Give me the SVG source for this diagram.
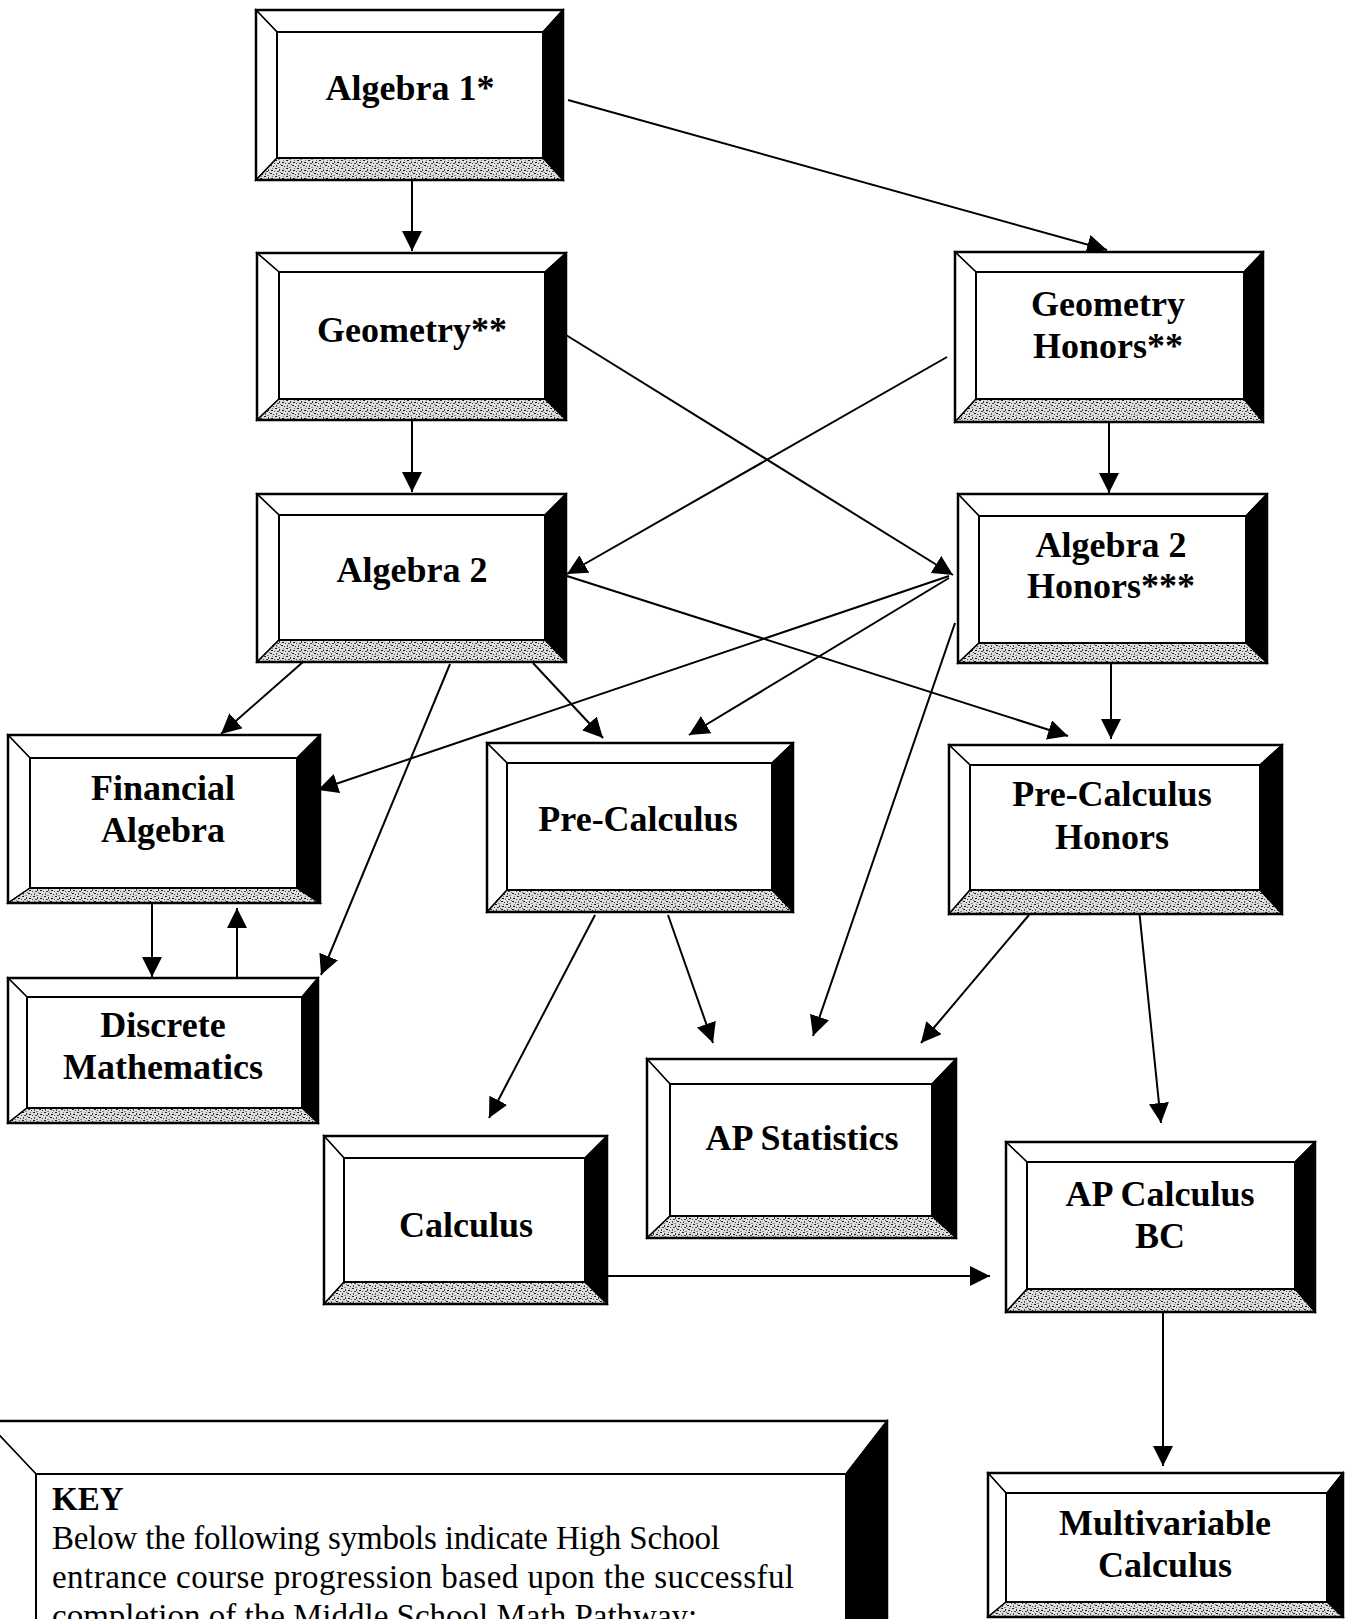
<svg xmlns="http://www.w3.org/2000/svg" width="1351" height="1619" viewBox="0 0 1351 1619">
<defs>
<style>
.o{fill:none;stroke:#000;stroke-width:2.5}
.w{fill:#fff;stroke:#000;stroke-width:1.5;stroke-linejoin:miter}
.k{fill:#000;stroke:#000;stroke-width:1.5}
.g{fill:url(#sp);stroke:#000;stroke-width:1.5}
.i{fill:#fff;stroke:#000;stroke-width:2}
.t{font-family:"Liberation Serif","Times New Roman",serif;font-weight:bold;font-size:36px;text-anchor:middle;fill:#000}
.kt{font-family:"Liberation Serif","Times New Roman",serif;font-size:33px;fill:#000}
.c{stroke:#000;stroke-width:2;fill:none;marker-end:url(#ah)}
</style>
<pattern id="sp" width="11" height="8" patternUnits="userSpaceOnUse">
<rect width="11" height="8" fill="#dcdcdc"/>
<rect x="0" y="0" width="2" height="1" fill="#222"/>
<rect x="4" y="1" width="1" height="2" fill="#333"/>
<rect x="7" y="2" width="2" height="1" fill="#111"/>
<rect x="2" y="3" width="2" height="1" fill="#444"/>
<rect x="6" y="5" width="2" height="1" fill="#222"/>
<rect x="1" y="5" width="1" height="2" fill="#555"/>
<rect x="5" y="4" width="1" height="1" fill="#666"/>
<rect x="9" y="6" width="1" height="1" fill="#333"/>
<rect x="10" y="3" width="1" height="1" fill="#444"/>
<rect x="3" y="7" width="2" height="1" fill="#888"/>
<rect x="8" y="0" width="1" height="1" fill="#777"/>
<rect x="9" y="4" width="1" height="1" fill="#fff"/>
<rect x="3" y="1" width="1" height="1" fill="#fff"/>
</pattern>
<marker id="ah" viewBox="0 0 20 20" refX="20" refY="10" markerWidth="20" markerHeight="20" markerUnits="userSpaceOnUse" orient="auto">
<path d="M0,0 L20,10 L0,20 z" fill="#000"/>
</marker>
</defs>
<rect width="1351" height="1619" fill="#fff"/>

<g id="connectors">
<line class="c" x1="412" y1="180" x2="412" y2="251"/>
<line class="c" x1="568" y1="100" x2="1107" y2="250"/>
<line class="c" x1="412" y1="420" x2="412" y2="492"/>
<line class="c" x1="1109" y1="422" x2="1109" y2="493"/>
<line class="c" x1="566" y1="335" x2="953" y2="575"/>
<line class="c" x1="947" y1="357" x2="567" y2="574"/>
<line class="c" x1="567" y1="576" x2="1068" y2="736"/>
<line class="c" x1="949" y1="576" x2="318" y2="790"/>
<line class="c" x1="949" y1="578" x2="689" y2="735"/>
<line class="c" x1="533" y1="663" x2="603" y2="738"/>
<line class="c" x1="303" y1="662" x2="221" y2="734"/>
<line class="c" x1="450" y1="664" x2="321" y2="975"/>
<line class="c" x1="955" y1="623" x2="813" y2="1036"/>
<line class="c" x1="152" y1="903" x2="152" y2="977"/>
<line class="c" x1="237" y1="978" x2="237" y2="908"/>
<line class="c" x1="1111" y1="663" x2="1111" y2="739"/>
<line class="c" x1="595" y1="915" x2="489" y2="1118"/>
<line class="c" x1="668" y1="915" x2="713" y2="1043"/>
<line class="c" x1="1029" y1="915" x2="921" y2="1043"/>
<line class="c" x1="1139" y1="909" x2="1161" y2="1123"/>
<line class="c" x1="607" y1="1276" x2="990" y2="1276"/>
<line class="c" x1="1163" y1="1312" x2="1163" y2="1466"/>
</g>

<g id="algebra1">
<polygon class="w" points="256,10 563,10 543,32 277,32"/>
<polygon class="w" points="256,10 277,32 277,158 256,180"/>
<polygon class="k" points="563,10 563,180 543,158 543,32"/>
<polygon class="g" points="256,180 277,158 543,158 563,180"/>
<rect class="i" x="277" y="32" width="266" height="126"/>
<rect class="o" x="256" y="10" width="307" height="170"/>
<text class="t" x="410" y="100">Algebra 1*</text>
</g>

<g id="geometry">
<polygon class="w" points="257,253 566,253 545,272 279,272"/>
<polygon class="w" points="257,253 279,272 279,399 257,420"/>
<polygon class="k" points="566,253 566,420 545,399 545,272"/>
<polygon class="g" points="257,420 279,399 545,399 566,420"/>
<rect class="i" x="279" y="272" width="266" height="127"/>
<rect class="o" x="257" y="253" width="309" height="167"/>
<text class="t" x="412" y="342">Geometry**</text>
</g>

<g id="geometry-honors">
<polygon class="w" points="955,252 1263,252 1244,272 976,272"/>
<polygon class="w" points="955,252 976,272 976,399 955,422"/>
<polygon class="k" points="1263,252 1263,422 1244,399 1244,272"/>
<polygon class="g" points="955,422 976,399 1244,399 1263,422"/>
<rect class="i" x="976" y="272" width="268" height="127"/>
<rect class="o" x="955" y="252" width="308" height="170"/>
<text class="t" x="1108" y="316">Geometry</text>
<text class="t" x="1108" y="358">Honors**</text>
</g>

<g id="algebra2">
<polygon class="w" points="257,494 566,494 545,515 279,515"/>
<polygon class="w" points="257,494 279,515 279,640 257,662"/>
<polygon class="k" points="566,494 566,662 545,640 545,515"/>
<polygon class="g" points="257,662 279,640 545,640 566,662"/>
<rect class="i" x="279" y="515" width="266" height="125"/>
<rect class="o" x="257" y="494" width="309" height="168"/>
<text class="t" x="412" y="582">Algebra 2</text>
</g>

<g id="algebra2-honors">
<polygon class="w" points="958,494 1267,494 1246,516 979,516"/>
<polygon class="w" points="958,494 979,516 979,643 958,663"/>
<polygon class="k" points="1267,494 1267,663 1246,643 1246,516"/>
<polygon class="g" points="958,663 979,643 1246,643 1267,663"/>
<rect class="i" x="979" y="516" width="267" height="127"/>
<rect class="o" x="958" y="494" width="309" height="169"/>
<text class="t" x="1111" y="557">Algebra 2</text>
<text class="t" x="1111" y="598">Honors***</text>
</g>

<g id="financial-algebra">
<polygon class="w" points="8,735 320,735 297,758 30,758"/>
<polygon class="w" points="8,735 30,758 30,888 8,903"/>
<polygon class="k" points="320,735 320,903 297,888 297,758"/>
<polygon class="g" points="8,903 30,888 297,888 320,903"/>
<rect class="i" x="30" y="758" width="267" height="130"/>
<rect class="o" x="8" y="735" width="312" height="168"/>
<text class="t" x="163" y="800">Financial</text>
<text class="t" x="163" y="842">Algebra</text>
</g>

<g id="discrete-mathematics">
<polygon class="w" points="8,978 318,978 302,997 27,997"/>
<polygon class="w" points="8,978 27,997 27,1108 8,1123"/>
<polygon class="k" points="318,978 318,1123 302,1108 302,997"/>
<polygon class="g" points="8,1123 27,1108 302,1108 318,1123"/>
<rect class="i" x="27" y="997" width="275" height="111"/>
<rect class="o" x="8" y="978" width="310" height="145"/>
<text class="t" x="163" y="1037">Discrete</text>
<text class="t" x="163" y="1079">Mathematics</text>
</g>

<g id="pre-calculus">
<polygon class="w" points="487,743 793,743 772,763 507,763"/>
<polygon class="w" points="487,743 507,763 507,890 487,912"/>
<polygon class="k" points="793,743 793,912 772,890 772,763"/>
<polygon class="g" points="487,912 507,890 772,890 793,912"/>
<rect class="i" x="507" y="763" width="265" height="127"/>
<rect class="o" x="487" y="743" width="306" height="169"/>
<text class="t" x="638" y="831">Pre-Calculus</text>
</g>

<g id="pre-calculus-honors">
<polygon class="w" points="949,745 1282,745 1260,765 970,765"/>
<polygon class="w" points="949,745 970,765 970,890 949,914"/>
<polygon class="k" points="1282,745 1282,914 1260,890 1260,765"/>
<polygon class="g" points="949,914 970,890 1260,890 1282,914"/>
<rect class="i" x="970" y="765" width="290" height="125"/>
<rect class="o" x="949" y="745" width="333" height="169"/>
<text class="t" x="1112" y="806">Pre-Calculus</text>
<text class="t" x="1112" y="849">Honors</text>
</g>

<g id="ap-statistics">
<polygon class="w" points="647,1059 956,1059 932,1084 670,1084"/>
<polygon class="w" points="647,1059 670,1084 670,1216 647,1238"/>
<polygon class="k" points="956,1059 956,1238 932,1216 932,1084"/>
<polygon class="g" points="647,1238 670,1216 932,1216 956,1238"/>
<rect class="i" x="670" y="1084" width="262" height="132"/>
<rect class="o" x="647" y="1059" width="309" height="179"/>
<text class="t" x="802" y="1150">AP Statistics</text>
</g>

<g id="calculus">
<polygon class="w" points="324,1136 607,1136 585,1158 344,1158"/>
<polygon class="w" points="324,1136 344,1158 344,1282 324,1304"/>
<polygon class="k" points="607,1136 607,1304 585,1282 585,1158"/>
<polygon class="g" points="324,1304 344,1282 585,1282 607,1304"/>
<rect class="i" x="344" y="1158" width="241" height="124"/>
<rect class="o" x="324" y="1136" width="283" height="168"/>
<text class="t" x="466" y="1237">Calculus</text>
</g>

<g id="ap-calculus-bc">
<polygon class="w" points="1006,1142 1315,1142 1295,1162 1027,1162"/>
<polygon class="w" points="1006,1142 1027,1162 1027,1289 1006,1312"/>
<polygon class="k" points="1315,1142 1315,1312 1295,1289 1295,1162"/>
<polygon class="g" points="1006,1312 1027,1289 1295,1289 1315,1312"/>
<rect class="i" x="1027" y="1162" width="268" height="127"/>
<rect class="o" x="1006" y="1142" width="309" height="170"/>
<text class="t" x="1160" y="1206">AP Calculus</text>
<text class="t" x="1160" y="1248">BC</text>
</g>

<g id="multivariable-calculus">
<polygon class="w" points="988,1473 1343,1473 1327,1493 1006,1493"/>
<polygon class="w" points="988,1473 1006,1493 1006,1602 988,1617"/>
<polygon class="k" points="1343,1473 1343,1617 1327,1602 1327,1493"/>
<polygon class="g" points="988,1617 1006,1602 1327,1602 1343,1617"/>
<rect class="i" x="1006" y="1493" width="321" height="109"/>
<rect class="o" x="988" y="1473" width="355" height="144"/>
<text class="t" x="1165" y="1535">Multivariable</text>
<text class="t" x="1165" y="1577">Calculus</text>
</g>

<g id="key">
<polygon class="w" points="-14,1421 887,1421 846,1474 36,1474"/>
<polygon class="w" points="-14,1421 36,1474 36,1700 -14,1700"/>
<polygon class="k" points="887,1421 887,1700 846,1700 846,1474"/>
<rect class="i" x="36" y="1474" width="810" height="300"/>
<rect class="o" x="-14" y="1421" width="901" height="300"/>
<text class="kt" x="52" y="1510" font-weight="bold">KEY</text>
<text class="kt" x="52" y="1549" textLength="668">Below the following symbols indicate High School</text>
<text class="kt" x="52" y="1588" textLength="742">entrance course progression based upon the successful</text>
<text class="kt" x="52" y="1627">completion of the Middle School Math Pathway:</text>
</g>
</svg>
